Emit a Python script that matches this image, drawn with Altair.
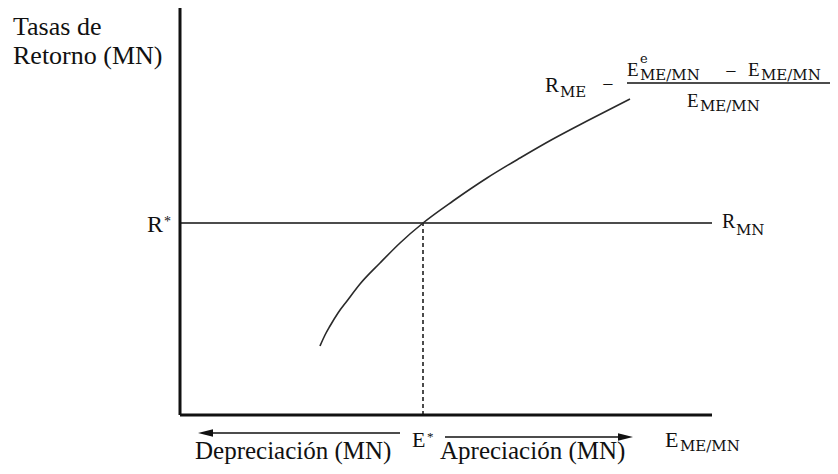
import altair as alt
import pandas as pd

# ---- data (schematic units: exchange rate E on x, rate of return R on y) ----
curve_e = [140, 145, 150, 158, 167, 180, 200, 220, 243, 273, 307, 340, 373, 407, 450]
curve_r = [69, 80, 89, 102, 114, 131, 152, 172, 192, 214, 237, 257, 276, 294, 316]
r_star = 192          # R*
e_star = 243          # E*
e_axis_max = 532      # end of horizontal axis / R_MN line
r_axis_max = 407      # top of vertical axis

SERIF = "Liberation Serif"
SUB = "DejaVu Serif"
INK = "#111111"

XS = alt.Scale(domain=[-172, 650], nice=False, zero=False)
YS = alt.Scale(domain=[-51, 407], nice=False, zero=False)


def X(f="x"):
    return alt.X(f + ":Q", scale=XS, axis=None)


def Y(f="y"):
    return alt.Y(f + ":Q", scale=YS, axis=None)


def txt(s, x, y, size, font=SERIF, align="left", baseline="alphabetic", weight="normal"):
    df = pd.DataFrame({"x": [x], "y": [y]})
    return alt.Chart(df).mark_text(
        text=s, font=font, fontSize=size, fontWeight=weight, align=align,
        baseline=baseline, color=INK
    ).encode(x=X(), y=Y())


def sub(s, x, y, size=15):
    return txt(s, x, y, size, font=SUB, weight="normal")


def seg(x1, x2, y1, y2, width=1.5, dash=None, color=INK):
    df = pd.DataFrame({"x": [x1, x2], "y": [y1, y2], "o": [0, 1]})
    kw = dict(strokeWidth=width, color=color)
    if dash:
        kw["strokeDash"] = dash
    return alt.Chart(df).mark_line(**kw).encode(x=X(), y=Y(), order="o:Q")


curve_df = pd.DataFrame({"x": curve_e, "y": curve_r})
curve = alt.Chart(curve_df).mark_line(
    interpolate="monotone", strokeWidth=1.6, color="#2a2a2a"
).encode(x=X(), y=Y())

layers = [
    seg(0, 0, 0, r_axis_max, width=3),
    seg(0, e_axis_max, 0, 0, width=3),
    seg(0, e_axis_max, r_star, r_star, width=1.6),
    seg(e_star, e_star, 0, r_star, width=1.5, dash=[4, 3]),
    curve,
    seg(22, 220, -18, -18, width=1.5),
    seg(265, 448, -22, -22, width=1.5),
]

left_head = alt.Chart(pd.DataFrame({"x": [18], "y": [-18]})).mark_point(
    shape="M0,0 L2,-0.5 L2,0.5 Z", filled=True, size=225, color=INK, opacity=1, strokeWidth=0
).encode(x=X(), y=Y())
right_head = alt.Chart(pd.DataFrame({"x": [453], "y": [-22]})).mark_point(
    shape="M0,0 L-2,-0.5 L-2,0.5 Z", filled=True, size=225, color=INK, opacity=1, strokeWidth=0
).encode(x=X(), y=Y())
layers += [left_head, right_head]

# fraction bar
layers.append(seg(447, 650, 332, 332, width=1.5))

texts = [
    txt("Tasas de", -167, 380, 26),
    txt("Retorno (MN)", -167, 351, 26),
    txt("R", -17, 183, 24, align="right"),
    txt("*", -16, 189, 14),
    # R_MN
    txt("R", 542, 187, 20),
    sub("MN", 556, 180),
    # formula
    txt("R", 365, 323, 21),
    sub("ME", 380, 318),
    txt("\u2212", 428, 330, 20, align="center", baseline="middle"),
    txt("E", 447, 339, 19),
    txt("e", 460, 352, 13, font=SUB),
    sub("ME/MN", 460, 335),
    txt("\u2212", 551, 343, 20, align="center", baseline="middle"),
    txt("E", 568, 339, 19),
    sub("ME/MN", 581, 335),
    txt("E", 507, 308, 19),
    sub("ME/MN", 520, 304),
    # x-axis label
    txt("E", 485, -32, 22),
    sub("ME/MN", 500, -36),
    # E*
    txt("E", 232, -32, 22),
    txt("*", 247, -26, 13),
    # bottom labels
    txt("Depreciación (MN)", 15, -44, 25),
    txt("Apreciación (MN)", 260, -44, 25),
]
layers += texts

chart = alt.layer(*layers).properties(
    width=822, height=458, autosize=alt.AutoSizeParams(type="none"), padding=0
).configure_view(strokeWidth=0)

chart.save("out.html", embed_options={"renderer": "svg", "actions": False})
